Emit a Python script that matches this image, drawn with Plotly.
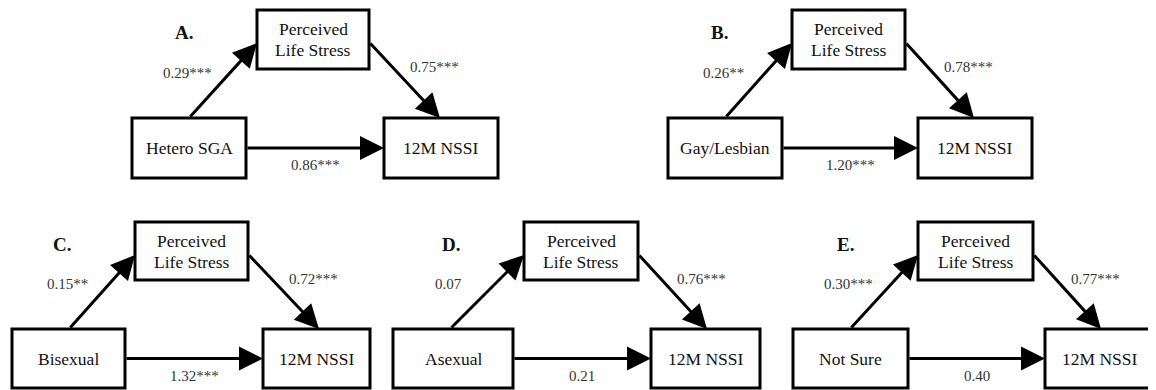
import plotly.graph_objects as go

# ---- data ----
panel_labels = ["A.", "B.", "C.", "D.", "E."]
predictors = ["Hetero SGA", "Gay/Lesbian", "Bisexual", "Asexual", "Not Sure"]
mediator_lines = ["Perceived", "Life Stress"]
outcome = "12M NSSI"
a_vals = [0.29, 0.26, 0.15, 0.07, 0.30]
a_sig = ["***", "**", "**", "", "***"]
b_vals = [0.75, 0.78, 0.72, 0.76, 0.77]
b_sig = ["***", "***", "***", "***", "***"]
c_vals = [0.86, 1.20, 1.32, 0.21, 0.40]
c_sig = ["***", "***", "***", "", ""]

# ---- layout (pixel geometry of each panel) ----
# (pred_x0, pred_x1, med_x0, med_x1, out_x0, out_x1, row)
geom = [
    (132, 246, 257, 369, 384, 498, 0),
    (668, 782, 792, 905, 918, 1032, 0),
    (12, 125, 135, 248, 263, 370, 1),
    (393, 513, 524, 638, 651, 760, 1),
    (793, 908, 918, 1033, 1045, 1155, 1),
]
rows = [  # (med_top, med_bot, low_top, low_bot)
    (10, 69, 118, 178),
    (222, 280, 329, 388),
]

W, H = 1156, 390
PAGE = 8  # default body margin of the html page
fig = go.Figure()
fig.add_trace(go.Scatter(x=[0, W], y=[0, H], mode="markers",
                         marker=dict(opacity=0), hoverinfo="skip", showlegend=False))

shapes = []
ann = []
serif = "Liberation Serif, Times New Roman, serif"
node_font = dict(family=serif, size=17.5, color="#111111")
coef_font = dict(family=serif, size=15, color="#333333")
lett_font = dict(family=serif, size=19, color="#111111")

def box(x0, x1, y0, y1):
    shapes.append(dict(type="rect", xref="x", yref="y", x0=x0, x1=x1, y0=y0, y1=y1,
                       line=dict(color="black", width=3), fillcolor="white", layer="below"))

def arrow(xt, yt, xh, yh):
    ann.append(dict(x=xh, y=yh, ax=xt, ay=yt, xref="x", yref="y", axref="x", ayref="y",
                    text="", showarrow=True, arrowhead=2, arrowsize=1.6, arrowwidth=3,
                    arrowcolor="black", standoff=0, startstandoff=0))

def text(x, y, s, font):
    ann.append(dict(x=x, y=y, xref="x", yref="y", text=s, showarrow=False, font=font,
                    xanchor="center", yanchor="middle"))

for i, (px0, px1, mx0, mx1, ox0, ox1, r) in enumerate(geom):
    mt, mb, lt, lb = rows[r]
    box(px0, px1, lt, lb)
    box(mx0, mx1, mt, mb)
    box(ox0, ox1, lt, lb)
    text((px0 + px1) / 2, (lt + lb) / 2, predictors[i], node_font)
    text((mx0 + mx1) / 2, mt + 19, mediator_lines[0], node_font)
    text((mx0 + mx1) / 2, mt + 40, mediator_lines[1], node_font)
    text((ox0 + ox1) / 2, (lt + lb) / 2, outcome, node_font)
    text(mx0 - 73, mt + 22, "<b>" + panel_labels[i] + "</b>", lett_font)
    # paths
    arrow(px0 + 57, lt, mx0, mt + 33)
    arrow(mx1, mt + 32, ox0 + 56, lt)
    arrow(px1, (lt + lb) / 2, ox0, (lt + lb) / 2)
    text(px0 + 55, lt - 45, f"{a_vals[i]:.2f}{a_sig[i]}", coef_font)
    text(ox0 + 50, mt + 57, f"{b_vals[i]:.2f}{b_sig[i]}", coef_font)
    text((px1 + ox0) / 2, lt + 47, f"{c_vals[i]:.2f}{c_sig[i]}", coef_font)

fig.update_layout(
    width=W, height=H, margin=dict(l=0, r=0, t=0, b=0),
    paper_bgcolor="white", plot_bgcolor="white",
    xaxis=dict(range=[PAGE, W + PAGE], visible=False, fixedrange=True),
    yaxis=dict(range=[H + PAGE, PAGE], visible=False, fixedrange=True),
    shapes=shapes, annotations=ann, showlegend=False,
)
fig.write_html("out.html")
